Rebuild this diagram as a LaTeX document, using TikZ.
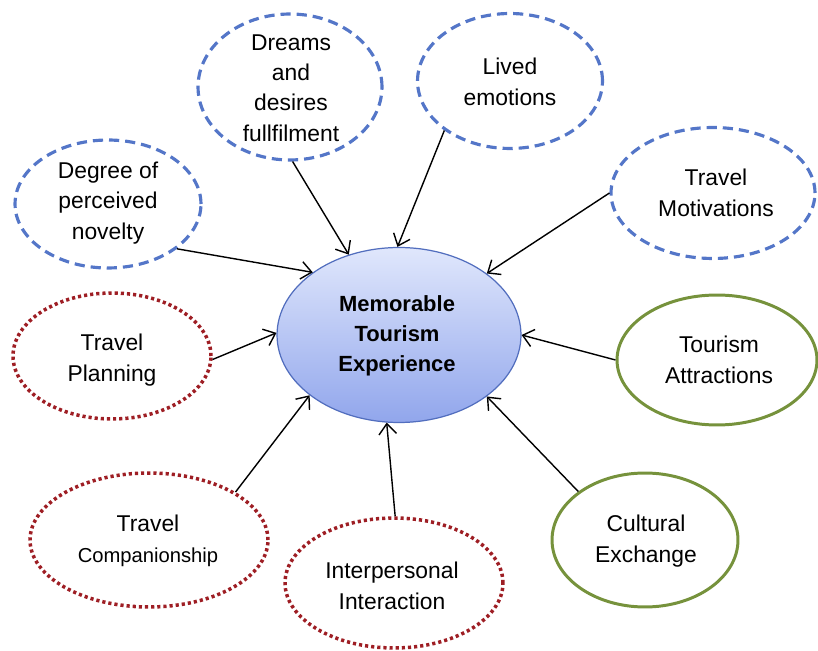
\documentclass[tikz,border=0pt]{standalone}
\usepackage{fontspec}
\setmainfont{Liberation Sans}
\usepackage{tikz}
\usetikzlibrary{shapes.geometric, arrows.meta, positioning, calc}

\definecolor{dashblue}{RGB}{84,118,200}
\definecolor{dotred}{RGB}{158,30,36}
\definecolor{olivegreen}{RGB}{118,146,60}
\definecolor{coreline}{RGB}{82,110,190}
\definecolor{coretop}{RGB}{224,231,252}
\definecolor{corebottom}{RGB}{145,166,236}

\begin{document}
\begin{tikzpicture}[x=0.02cm, y=-0.02cm,
    oval/.style={ellipse, inner sep=0pt},
    bluedash/.style={oval, draw=dashblue, line width=1.8pt, dash pattern=on 5.8pt off 3.4pt},
    reddot/.style={oval, draw=dotred, line width=2pt, dash pattern=on 1.8pt off 1.7pt},
    greenline/.style={oval, draw=olivegreen, line width=1.7pt},
    core/.style={oval, draw=coreline, line width=0.7pt, top color=coretop, bottom color=corebottom},
    lbl/.style={align=center, font=\fontsize{13}{17.3}\selectfont},
    conn/.style={line width=0.8pt, -{Straight Barb[length=6pt, width=10pt]}}]
    \useasboundingbox (0,0) rectangle (818,651);

    % Centre
    \node[core, minimum width=4.88cm, minimum height=3.5cm] (mte) at (399,335) {};
    \node[lbl, font=\fontsize{12.5}{17}\selectfont\bfseries] (mte-t) at (397,336)
      {Memorable\\Tourism\\Experience};

    % Dashed (top)
    \node[bluedash, minimum width=3.72cm, minimum height=2.56cm] (novelty) at (108,204) {};
    \node[lbl] (novelty-t) at (108,203) {Degree of\\perceived\\novelty};
    \node[bluedash, minimum width=3.68cm, minimum height=2.92cm] (dreams) at (290,87) {};
    \node[lbl] (dreams-t) at (291,88) {Dreams\\and\\desires\\fullfilment};
    \node[bluedash, minimum width=3.7cm, minimum height=2.7cm] (lived) at (510,81) {};
    \node[lbl] (lived-t) at (510,82) {Lived\\emotions};
    \node[bluedash, minimum width=4.08cm, minimum height=2.62cm] (motiv) at (713,193) {};
    \node[lbl] (motiv-t) at (716,193) {Travel\\Motivations};

    % Solid (right)
    \node[greenline, minimum width=4.0cm, minimum height=2.6cm] (attract) at (717,360) {};
    \node[lbl] (attract-t) at (719,360) {Tourism\\Attractions};
    \node[greenline, minimum width=3.72cm, minimum height=2.68cm] (culture) at (645,540) {};
    \node[lbl] (culture-t) at (646,541) {Cultural\\Exchange};

    % Dotted (bottom left)
    \node[reddot, minimum width=3.96cm, minimum height=2.52cm] (planning) at (112,356) {};
    \node[lbl] (planning-t) at (112,360) {Travel\\Planning};
    \node[reddot, minimum width=4.76cm, minimum height=2.68cm] (company) at (149,540) {};
    \node[lbl] (company-t) at (148,541)
      {Travel\\{\fontsize{11.5}{15}\selectfont Companionship}};
    \node[reddot, minimum width=4.36cm, minimum height=2.6cm] (inter) at (394,583) {};
    \node[lbl] (inter-t) at (392,586) {Interpersonal\\Interaction};

    % Connectors
    \draw[conn] (novelty.-33) -- (mte.144.5);
    \draw[conn] (dreams.-88) -- (mte.122.5);
    \draw[conn] (lived.-143) -- (mte.91);
    \draw[conn] (motiv.180) -- (mte.35.6);
    \draw[conn] (attract.180) -- (mte.0);
    \draw[conn] (culture.144) -- (mte.-35);
    \draw[conn] (inter.89) -- (mte.-98);
    \draw[conn] (company.29) -- (mte.-146);
    \draw[conn] (planning.-2) -- (mte.179);
  \end{tikzpicture}
\end{document}
